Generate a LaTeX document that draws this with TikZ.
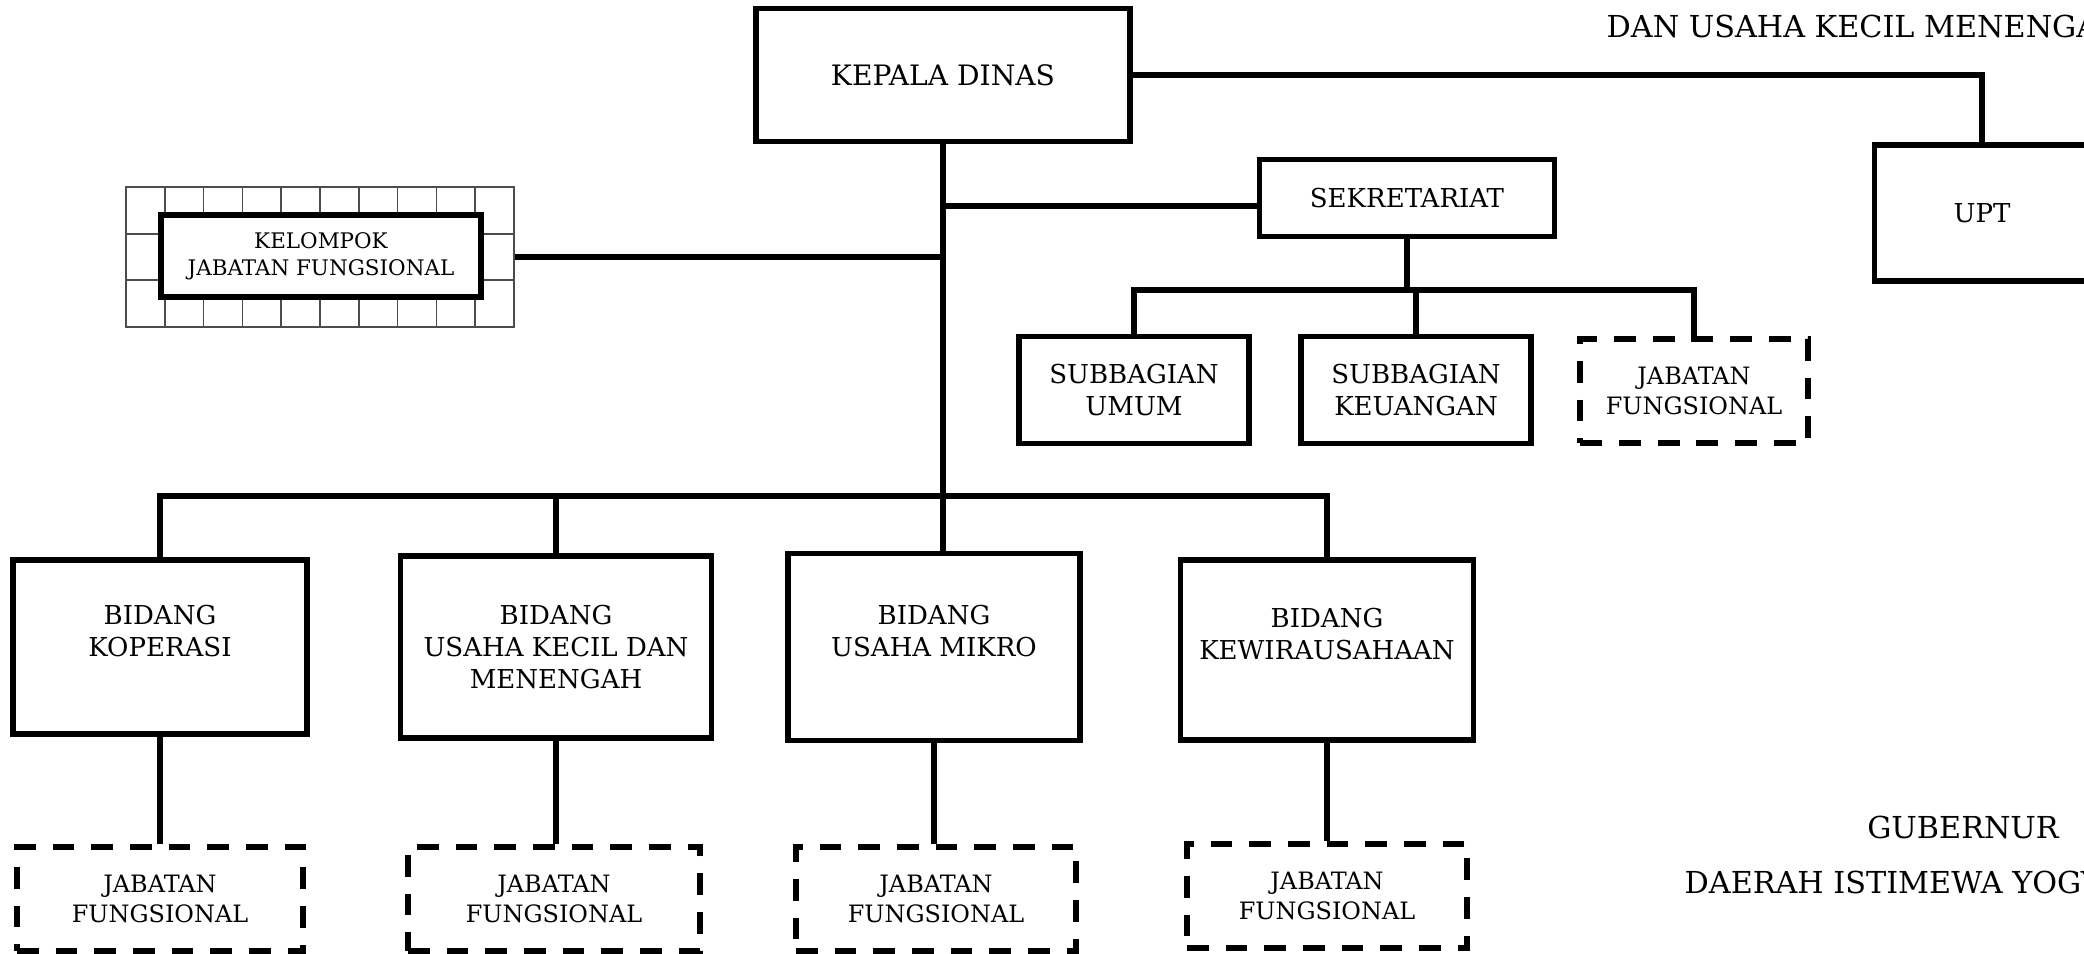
\documentclass[tikz,border=0pt]{standalone}
\usepackage{fontspec}
\setmainfont{DejaVu Serif}
\usetikzlibrary{positioning}
\tikzset{
    unitbox/.style = {rectangle, draw=black, line width=1.5pt, fill=white, align=center, inner sep=0pt, font=\fontsize{7.4}{9.1}\selectfont},
    headbox/.style = {unitbox, font=\fontsize{8}{10}\selectfont},
    smallbox/.style = {unitbox, font=\fontsize{6.1}{7.6}\selectfont},
    dashbox/.style = {rectangle, draw=black, line width=1.7pt, dash pattern=on 6.2pt off 4.8pt, align=center, inner sep=0pt, font=\fontsize{6.8}{8.3}\selectfont},
    gridbox/.style = {rectangle, draw=black!70, line width=0.5pt, inner sep=0pt},
    gridln/.style = {line width=0.5pt, black!70},
    conn/.style = {line width=1.5pt, black},
    capt/.style = {anchor=base west, inner sep=0pt, font=\fontsize{8.6}{10}\selectfont}
}
\begin{document}
\begin{tikzpicture}[x=0.01cm,y=-0.01cm]
\useasboundingbox (0,0) rectangle (2084,953);
%
\node[headbox,minimum width=3.74cm,minimum height=1.33cm] at (943,75) (kepala) {KEPALA DINAS};
\node[unitbox,minimum width=2.95cm,minimum height=0.77cm] at (1407,198) (sekre) {SEKRETARIAT};
\node[unitbox,minimum width=2.15cm,minimum height=1.36cm] at (1982,213) (upt) {UPT};
%
\node[gridbox,minimum width=3.88cm,minimum height=1.40cm] at (320,257) (kgrid) {};
\foreach \gx in {1,...,9}
    \draw[gridln] (126+\gx*38.8,187) -- (126+\gx*38.8,327);
\draw[gridln] (126,233.7) -- (514,233.7);
\draw[gridln] (126,280.3) -- (514,280.3);
\node[smallbox,minimum width=3.20cm,minimum height=0.82cm] at (321,256) (kjf) {KELOMPOK\\JABATAN FUNGSIONAL};
%
\node[unitbox,minimum width=2.30cm,minimum height=1.07cm] at (1134,390) (umum) {SUBBAGIAN\\UMUM};
\node[unitbox,minimum width=2.30cm,minimum height=1.07cm] at (1416,390) (keu) {SUBBAGIAN\\KEUANGAN};
\node[dashbox,minimum width=2.27cm,minimum height=1.04cm] at (1694,391) (sjf) {JABATAN\\FUNGSIONAL};
%
\node[unitbox,minimum width=2.94cm,minimum height=1.74cm] at (160,647) (kop) {BIDANG\\KOPERASI\\~};
\node[unitbox,minimum width=3.11cm,minimum height=1.82cm] at (556,647) (ukm) {BIDANG\\USAHA KECIL DAN\\MENENGAH};
\node[unitbox,minimum width=2.92cm,minimum height=1.87cm] at (934,647) (mikro) {BIDANG\\USAHA MIKRO\\~};
\node[unitbox,minimum width=2.93cm,minimum height=1.80cm] at (1327,650) (kew) {BIDANG\\KEWIRAUSAHAAN\\~};
%
\node[dashbox,minimum width=2.86cm,minimum height=1.04cm] at (160,899) (jf1) {JABATAN\\FUNGSIONAL};
\node[dashbox,minimum width=2.92cm,minimum height=1.04cm] at (554,899) (jf2) {JABATAN\\FUNGSIONAL};
\node[dashbox,minimum width=2.80cm,minimum height=1.04cm] at (936,899) (jf3) {JABATAN\\FUNGSIONAL};
\node[dashbox,minimum width=2.80cm,minimum height=1.04cm] at (1327,896) (jf4) {JABATAN\\FUNGSIONAL};
%
\coordinate (bar) at (943,496);
\coordinate (sbar) at (1411,290);
\draw[conn] (kepala.south) -- (kepala.south |- mikro.north);
\draw[conn] (kop.north) -- (kop.north |- bar) -- (kew.north |- bar) -- (kew.north);
\draw[conn] (ukm.north) -- (ukm.north |- bar);
\draw[conn] ([yshift=-0.08cm]sekre.west) -- ([yshift=-0.08cm]sekre.west -| kepala.south);
\draw[conn] (kgrid.east) -- (kgrid.east -| kepala.south);
\draw[conn] (kepala.east) -| (upt.north);
\draw[conn] (sekre.south) -- (sekre.south |- sbar);
\draw[conn] (umum.north) -- (umum.north |- sbar) -- (sjf.north |- sbar) -- (sjf.north);
\draw[conn] (keu.north) -- (keu.north |- sbar);
\foreach \b/\j in {kop/jf1,ukm/jf2,mikro/jf3,kew/jf4}
    \draw[conn] (\b.south) -- (\b.south |- \j.north);

\node[capt] at (1606,37) (dantitle) {DAN USAHA KECIL MENENGAH};
\node[capt,anchor=base] at (1963,838) (gub) {GUBERNUR};
\node[capt] at (1684,893) (daerah) {DAERAH ISTIMEWA YOGYAKARTA};

\end{tikzpicture}
\end{document}
